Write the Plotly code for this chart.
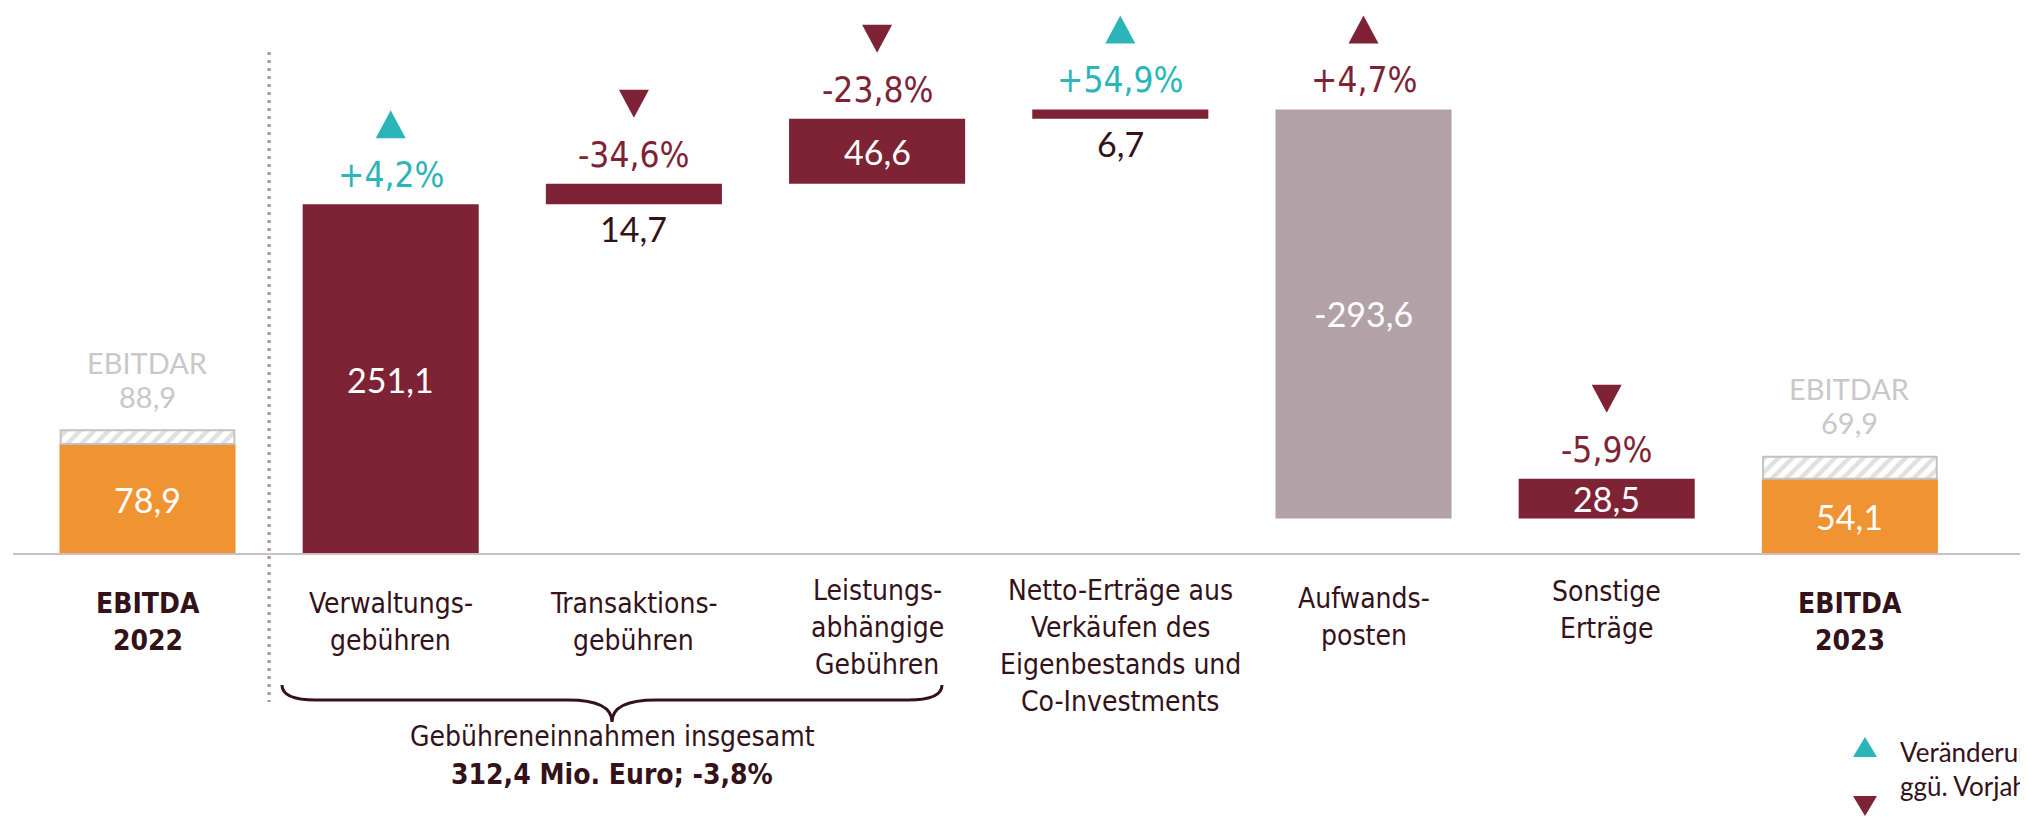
import plotly.graph_objects as go

# ---- data ----
category_lines = [
    ["EBITDA", "2022"],
    ["Verwaltungs-", "gebühren"],
    ["Transaktions-", "gebühren"],
    ["Leistungs-", "abhängige", "Gebühren"],
    ["Netto-Erträge aus", "Verkäufen des", "Eigenbestands und", "Co-Investments"],
    ["Aufwands-", "posten"],
    ["Sonstige", "Erträge"],
    ["EBITDA", "2023"],
]
ebitda_values = [78.9, 54.1]
ebitdar_values = [88.9, 69.9]
step_values = [251.1, 14.7, 46.6, 6.7, -293.6, 28.5]
change_labels = ["+4,2%", "-34,6%", "-23,8%", "+54,9%", "+4,7%", "-5,9%"]
change_up = [True, False, False, True, True, False]
change_good = [True, False, False, True, False, False]
fee_step_count = 3
fee_change_label = "-3,8%"
legend_lines = ["Veränderung", "ggü. Vorjahr"]

# ---- style ----
MAROON = "#7e2335"
TEAL = "#2bb5b9"
ORANGE = "#f09332"
MAUVE = "#b2a2a7"
HATCH = "#c2c2c2"
LIGHT_TEXT = "#c8c8c8"
DARK = "#33121a"
COND = "DejaVu Sans Condensed, Liberation Sans Narrow, sans-serif"
REG = "Lato, Open Sans, sans-serif"

# page geometry (the page body adds an 8px margin)
PAGE_W, PAGE_H, OFF = 2028, 817, 8
W, H = PAGE_W - OFF, PAGE_H - OFF
BASE_PX, UNIT_PX = 554, 1.393
X0_PX, STEP_PX = 147.5, 243.2
BAR_W = 0.724


def y_at(px):
    return (BASE_PX - px) / UNIT_PX


def x_at(px):
    return (px - X0_PX) / STEP_PX


def px_paper(px, py):
    return (px - OFF) / W, 1 - (py - OFF) / H


def fmt(v):
    return f"{v:.1f}".replace(".", ",")


# waterfall steps
step_x = list(range(1, len(step_values) + 1))
step_base, step_top = [], []
running = 0.0
for v in step_values:
    if v >= 0:
        step_base.append(running)
        running += v
    else:
        running += v
        step_base.append(running)
    step_top.append(step_base[-1] + abs(v))

end_x = len(step_values) + 1
bar_x = [0] + step_x + [end_x]
bar_y = [ebitda_values[0]] + [abs(v) for v in step_values] + [ebitda_values[1]]
bar_base = [0] + step_base + [0]
bar_colors = [ORANGE] + [MAROON if v >= 0 else MAUVE for v in step_values] + [ORANGE]

fig = go.Figure()
fig.add_trace(go.Bar(
    x=bar_x, y=bar_y, base=bar_base, width=BAR_W,
    marker=dict(color=bar_colors, line=dict(width=0)),
    hoverinfo="skip",
))
fig.add_trace(go.Bar(
    x=[0, end_x],
    y=[r - e for r, e in zip(ebitdar_values, ebitda_values)],
    base=ebitda_values, width=BAR_W - 0.01,
    marker=dict(color="white", line=dict(color=HATCH, width=2),
                pattern=dict(shape="/", fgcolor=HATCH, bgcolor="white", size=10, solidity=0.45)),
    hoverinfo="skip",
))

ann = []
shapes = []


def text(x, y, s, size, color, family=REG, yshift=0, yanchor="middle", xanchor="center", xref="x", yref="y"):
    ann.append(dict(x=x, y=y, xref=xref, yref=yref, text=s, showarrow=False,
                    font=dict(size=size, color=color, family=family),
                    xanchor=xanchor, yanchor=yanchor, yshift=yshift))


# EBITDA / EBITDAR
for x, e, r in zip([0, end_x], ebitda_values, ebitdar_values):
    text(x, e / 2, fmt(e), 34, "white")
    text(x, r, fmt(r), 29, LIGHT_TEXT, yshift=34)
    text(x, r, "EBITDAR", 29, LIGHT_TEXT, yshift=68)

# step values, changes and arrows
for x, v, b, t, lab, up, good in zip(step_x, step_values, step_base, step_top,
                                       change_labels, change_up, change_good):
    if abs(v) >= 20:
        text(x, b + abs(v) / 2, fmt(v), 34, "white")
    else:
        text(x, b, fmt(v), 34, DARK, yshift=-2, yanchor="top")
    col = TEAL if good else MAROON
    text(x, t, lab, 35, col, family=COND, yshift=29)
    path = "M-15,66 L15,66 L0,94 Z" if up else "M-15,94 L15,94 L0,66 Z"
    shapes.append(dict(type="path", xref="x", yref="y", xsizemode="pixel", ysizemode="pixel",
                       xanchor=x, yanchor=t, path=path, fillcolor=col, line=dict(width=0)))

# category labels
label_px = [603, 603, 603, 590, 590, 598, 591, 603]
for i, (lines, top) in enumerate(zip(category_lines, label_px)):
    bold = i in (0, end_x)
    for k, line in enumerate(lines):
        s = f"<b>{line}</b>" if bold else line
        text(i, y_at(top + k * 37), s, 28, DARK, family=COND)

# baseline and separator
shapes.append(dict(type="line", xref="paper", yref="y", x0=px_paper(13, 0)[0], x1=1, y0=0, y1=0,
                   line=dict(color="#cbbfc3", width=2)))
shapes.append(dict(type="line", xref="x", yref="y", x0=0.5, x1=0.5, y0=y_at(52), y1=y_at(702),
                   line=dict(color="#ad9ca4", width=3.5, dash="3px,5px")))

# brace over fee income
xl, xr, xm = x_at(282), x_at(942), x_at(612)
ye, yl, yt = y_at(685), y_at(700), y_at(722)
dx, dm = 34 / STEP_PX, 44 / STEP_PX
brace = (f"M{xl},{ye} Q{xl},{yl} {xl + dx},{yl} L{xm - dm},{yl} Q{xm},{yl} {xm},{yt} "
         f"Q{xm},{yl} {xm + dm},{yl} L{xr - dx},{yl} Q{xr},{yl} {xr},{ye}")
shapes.append(dict(type="path", xref="x", yref="y", path=brace, line=dict(color=DARK, width=3)))

fee_total = sum(step_values[:fee_step_count])
text(xm, y_at(736), "Gebühreneinnahmen insgesamt", 28, DARK, family=COND)
text(xm, y_at(774), f"<b>{fmt(fee_total)} Mio. Euro; {fee_change_label}</b>", 28, DARK, family=COND)

# legend (cut by the page edge like the original)
for col, up, py in [(TEAL, True, 747), (MAROON, False, 806)]:
    path = "M-12,-10 L12,-10 L0,10 Z" if up else "M-12,10 L12,10 L0,-10 Z"
    ax, ay = px_paper(1865, py)
    shapes.append(dict(type="path", xref="paper", yref="paper", xsizemode="pixel", ysizemode="pixel",
                       xanchor=ax, yanchor=ay, path=path, fillcolor=col, line=dict(width=0)))
for line, py in zip(legend_lines, [752, 786]):
    ax, ay = px_paper(1898, py)
    text(ax, ay, line, 26, DARK, xanchor="left", xref="paper", yref="paper")

fig.update_layout(
    width=W, height=H,
    margin=dict(l=0, r=0, t=0, b=0),
    paper_bgcolor="white", plot_bgcolor="white",
    barmode="overlay", showlegend=False,
    xaxis=dict(visible=False, range=[x_at(OFF), x_at(PAGE_W)], fixedrange=True),
    yaxis=dict(visible=False, range=[y_at(PAGE_H), y_at(OFF)], fixedrange=True),
    annotations=ann, shapes=shapes,
)

fig.write_html("out.html")
